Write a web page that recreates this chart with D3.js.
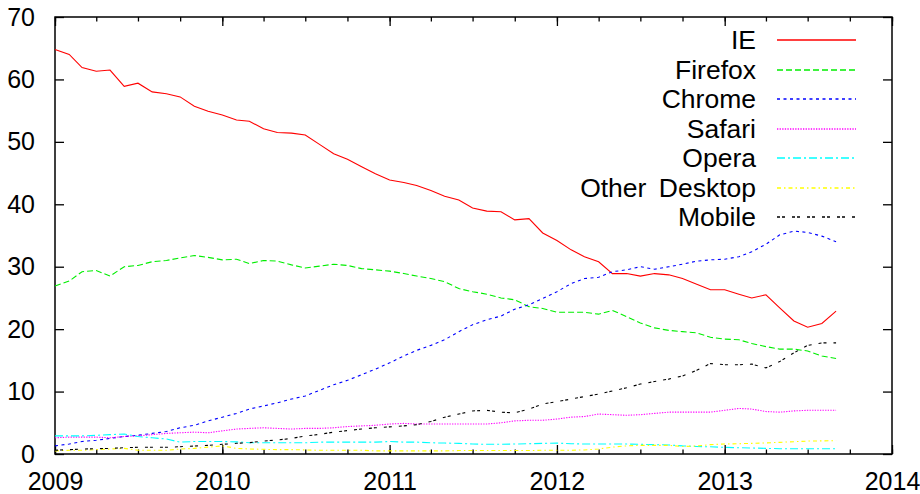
<!DOCTYPE html>
<html>
<head>
<meta charset="utf-8">
<script src="https://cdn.jsdelivr.net/npm/d3@7"></script>
<style>
  html, body { margin: 0; padding: 0; background: #fff; }
  svg { display: block; }
</style>
</head>
<body>
<svg id="chart" width="920" height="494"></svg>
<script>
// ---- data (monthly, StatCounter-style browser share %) ----
const months = [
  "2009-01","2009-02","2009-03","2009-04","2009-05","2009-06","2009-07","2009-08","2009-09","2009-10","2009-11","2009-12",
  "2010-01","2010-02","2010-03","2010-04","2010-05","2010-06","2010-07","2010-08","2010-09","2010-10","2010-11","2010-12",
  "2011-01","2011-02","2011-03","2011-04","2011-05","2011-06","2011-07","2011-08","2011-09","2011-10","2011-11","2011-12",
  "2012-01","2012-02","2012-03","2012-04","2012-05","2012-06","2012-07","2012-08","2012-09","2012-10","2012-11","2012-12",
  "2013-01","2013-02","2013-03","2013-04","2013-05","2013-06","2013-07","2013-08","2013-09"
];
const ie = [64.8,64.0,61.9,61.3,61.5,58.9,59.4,58.0,57.7,57.2,55.7,54.9,
  54.3,53.5,53.3,52.1,51.5,51.4,51.1,49.6,48.1,47.2,46.0,44.9,
  43.9,43.5,43.0,42.2,41.3,40.7,39.4,38.9,38.8,37.5,37.7,35.4,
  34.2,32.7,31.6,30.8,28.9,28.9,28.5,28.9,28.7,28.1,27.2,26.3,
  26.3,25.6,25.0,25.5,23.4,21.3,20.3,20.9,22.9];
const firefox = [26.9,27.7,29.2,29.4,28.5,30.0,30.2,30.8,31.0,31.4,31.8,31.5,
  31.1,31.2,30.5,31.0,30.9,30.3,29.8,30.1,30.4,30.2,29.7,29.5,
  29.3,28.9,28.5,28.1,27.6,26.5,26.0,25.6,25.0,24.7,23.6,23.3,
  22.7,22.7,22.7,22.4,23.0,22.0,21.0,20.2,19.8,19.6,19.4,18.7,
  18.4,18.3,17.7,17.2,16.8,16.8,16.5,15.7,15.3];
const chrome = [1.3,1.6,2.0,2.2,2.5,2.8,3.0,3.3,3.6,4.2,4.6,5.3,
  5.9,6.5,7.2,7.7,8.2,8.8,9.3,10.2,11.1,11.8,12.7,13.6,
  14.6,15.7,16.6,17.4,18.3,19.6,20.7,21.5,22.1,23.2,23.9,24.9,
  26.0,27.3,28.1,28.3,29.2,29.5,30.0,29.6,30.0,30.4,30.9,31.1,
  31.2,31.6,32.4,33.6,35.1,35.7,35.5,34.9,34.0];
const safari = [2.6,2.7,2.7,2.7,2.6,2.8,2.9,3.1,3.3,3.4,3.5,3.4,
  3.7,4.0,4.1,4.2,4.1,4.0,4.1,4.1,4.2,4.4,4.5,4.6,
  4.8,4.9,4.8,4.8,4.8,4.8,4.8,4.8,5.0,5.3,5.4,5.4,
  5.6,5.9,6.0,6.4,6.3,6.2,6.3,6.5,6.7,6.7,6.7,6.7,
  7.0,7.3,7.2,6.8,6.7,6.9,7.0,7.0,7.0];
const opera = [2.9,2.9,2.9,3.0,3.1,3.2,2.8,2.6,2.4,1.9,2.0,2.0,
  2.0,1.95,1.8,1.8,1.8,1.8,1.8,1.9,1.9,1.9,1.9,1.9,
  2.0,1.9,1.9,1.8,1.75,1.7,1.6,1.55,1.55,1.6,1.65,1.7,
  1.75,1.65,1.6,1.6,1.6,1.6,1.55,1.5,1.45,1.3,1.2,1.15,
  1.07,1.0,0.96,0.9,0.85,0.85,0.85,0.85,0.85];
const otherDesktop = [0.5,0.6,0.6,0.7,0.8,0.9,0.6,0.6,0.6,0.8,0.9,1.1,
  1.3,0.9,0.8,0.75,0.7,0.7,0.65,0.6,0.6,0.6,0.6,0.5,
  0.5,0.5,0.5,0.5,0.5,0.55,0.55,0.55,0.55,0.55,0.55,0.6,
  0.6,0.6,0.65,0.8,1.1,1.3,1.38,1.38,1.38,1.2,1.28,1.5,
  1.6,1.65,1.7,1.78,1.87,1.97,2.07,2.1,2.13];
const mobile = [0.6,0.7,0.8,0.85,0.9,1.0,1.07,1.07,1.07,1.17,1.28,1.39,
  1.55,1.71,1.81,2.08,2.24,2.5,2.88,3.15,3.5,3.75,4.0,4.2,
  4.35,4.5,4.7,5.2,5.9,6.4,6.9,7.0,6.7,6.6,7.2,8.0,
  8.4,8.8,9.2,9.6,10.1,10.6,11.2,11.6,12.0,12.5,13.4,14.5,
  14.3,14.3,14.4,13.8,14.8,16.2,17.4,17.8,17.8];

const seriesNames = ["IE","Firefox","Chrome","Safari","Opera","Other Desktop","Mobile"];
const seriesValues = [ie, firefox, chrome, safari, opera, otherDesktop, mobile];
const xTickYears = ["2009","2010","2011","2012","2013","2014"];
const yTickValues = [0,10,20,30,40,50,60,70];

// ---- styles ----
const colors = ["#ff0000","#00ee00","#0000ff","#ff00ff","#00ffff","#ffff00","#000000"];
const dashes = ["none","6,3","3,3.5","1.3,1.3","8,3,2,3","4,3,1.5,3","3,2,3,7"];

const parseMonth = d3.timeParse("%Y-%m");
const parseYear = d3.timeParse("%Y");
const dates = months.map(parseMonth);

const svg = d3.select("#chart");
const L = 55, R = 892, T = 17, B = 454;

const x = d3.scaleTime()
  .domain([parseYear(xTickYears[0]), parseYear(xTickYears[xTickYears.length-1])])
  .range([L, R]);
const y = d3.scaleLinear().domain([0, 70]).range([B, T]);

const fontFam = "'Liberation Sans', Arial, sans-serif";

// quarter minor ticks
const quarterTicks = d3.timeMonth.every(3).range(x.domain()[0], d3.timeDay.offset(x.domain()[1], 1));
const yearTicks = xTickYears.map(parseYear);

function styleAxis(g) {
  g.select(".domain").remove();
  g.selectAll("line").attr("stroke", "#000").attr("stroke-width", 1.3);
  g.selectAll("text").attr("font-family", fontFam).attr("font-size", 25).attr("fill", "#000");
}

// bottom minor
svg.append("g").attr("transform", `translate(0,${B})`)
  .call(d3.axisBottom(x).tickValues(quarterTicks).tickSize(-4.5).tickFormat(""))
  .call(styleAxis);
// top minor
svg.append("g").attr("transform", `translate(0,${T})`)
  .call(d3.axisTop(x).tickValues(quarterTicks).tickSize(-4.5).tickFormat(""))
  .call(styleAxis);
// bottom major with labels
svg.append("g").attr("transform", `translate(0,${B})`)
  .call(d3.axisBottom(x).tickValues(yearTicks).tickSize(-9).tickPadding(18).tickFormat(d3.timeFormat("%Y")))
  .call(styleAxis);
// top major
svg.append("g").attr("transform", `translate(0,${T})`)
  .call(d3.axisTop(x).tickValues(yearTicks).tickSize(-9).tickFormat(""))
  .call(styleAxis);
// left
svg.append("g").attr("transform", `translate(${L},0)`)
  .call(d3.axisLeft(y).tickValues(yTickValues).tickSize(-9).tickPadding(20))
  .call(styleAxis);
// right
svg.append("g").attr("transform", `translate(${R},0)`)
  .call(d3.axisRight(y).tickValues(yTickValues).tickSize(-9).tickFormat(""))
  .call(styleAxis);

// border
svg.append("rect")
  .attr("x", L).attr("y", T).attr("width", R - L).attr("height", B - T)
  .attr("fill", "none").attr("stroke", "#000").attr("stroke-width", 1.5);

// lines
const line = d3.line().x((d, i) => x(dates[i])).y(d => y(d));
seriesValues.forEach((vals, k) => {
  svg.append("path")
    .datum(vals)
    .attr("d", line)
    .attr("fill", "none")
    .attr("stroke", colors[k])
    .attr("stroke-width", 1.1)
    .attr("stroke-dasharray", dashes[k]);
});

// legend
const legX = 756, legY0 = 40, legStep = 29.5, sampleX1 = 777, sampleX2 = 856;
const leg = svg.append("g");
seriesNames.forEach((name, k) => {
  const yy = legY0 + k * legStep;
  leg.append("text")
    .attr("x", legX).attr("y", yy).attr("dy", "0.35em")
    .attr("text-anchor", "end")
    .attr("font-family", fontFam).attr("font-size", 26.5).attr("fill", "#000")
    .attr("word-spacing", 5)
    .text(name);
  const ly = Math.round(yy);
  leg.append("line")
    .attr("x1", sampleX1).attr("x2", sampleX2).attr("y1", ly).attr("y2", ly)
    .attr("stroke", colors[k]).attr("stroke-width", 1.4)
    .attr("stroke-dasharray", dashes[k]);
});
</script>
</body>
</html>
